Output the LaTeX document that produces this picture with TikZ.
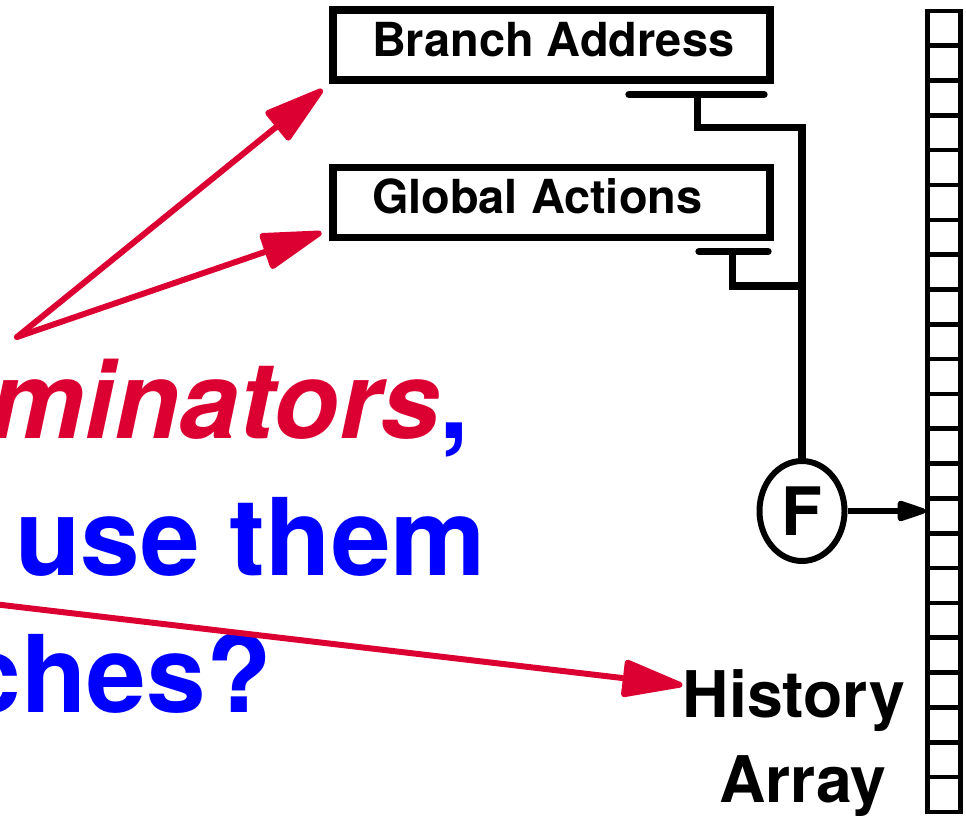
\documentclass[tikz,border=0pt]{standalone}
\usepackage{fontspec}
\setmainfont{TeX Gyre Heros}
\usetikzlibrary{arrows.meta,positioning,shapes.geometric,calc}
\definecolor{alertred}{RGB}{220,0,50}
\definecolor{textblue}{RGB}{0,0,255}
\newcommand\boxtext[1]{\makebox[7.18cm][l]{#1}}

\begin{document}
\begin{tikzpicture}[>={Triangle[round, length=0.7cm, width=0.42cm]}, every node/.style={inner sep=0pt, font=\bfseries}, box/.style={draw, line width=4pt, inner xsep=0.78cm, minimum height=1.4cm, text depth=0.24cm, font=\fontsize{26.7}{32}\selectfont\bfseries}, wire/.style={line width=4.2pt}, cell/.style={draw, line width=2.6pt, minimum width=0.66cm, minimum height=0.6966cm}, pointer/.style={color=alertred, line width=3.4pt, line cap=round, -{Triangle[round, length=1.36cm, width=0.76cm]}}, big/.style={font=\fontsize{61}{72}\selectfont\bfseries}, lbl/.style={font=\fontsize{36.6}{44}\selectfont\bfseries}]
\useasboundingbox (0,0) rectangle (19.32,16.3);
\clip (0,0) rectangle (19.32,16.3);

% question text, running off the left edge
\node[big, anchor=base east, text=alertred] (discr) at (9.4,7.54) {\textit{minators}\textcolor{textblue}{,}};
\node[big, anchor=base west, text=textblue] (usage) at (0.3,4.8) {use them};
\node[big, anchor=base east, text=textblue] (query) at (5.44,2.06) {ches?};

% tables feeding the hash
\node[box] (addr) at (11.03,15.4) {\boxtext{Branch Address}};
\node[box, below=1.6cm of addr] (glob) {\boxtext{Global Actions}};
\node[draw, ellipse, line width=3.4pt, minimum width=1.7cm, minimum height=2cm, font=\fontsize{38}{44}\selectfont\bfseries] (fn) at (16.04,6.08) {F};

% output taps
\draw[wire, line cap=round] (12.58,14.41) -- (15.28,14.41);
\draw[wire, line cap=round] (13.98,11.27) -- (15.36,11.27);
\coordinate (atap) at (13.95,14.41);
\coordinate (gtap) at (14.65,11.27);
\draw[wire] (atap) -- ++(0,-0.66) -| (fn.north);
\draw[wire] (gtap) -- ++(0,-0.69) -| (fn.north);

% history array
\foreach \i in {1,...,23}
  \node[cell] (c\i) at (18.88,{16.432-0.6966*\i}) {};
\draw[->, line width=3.4pt] (fn.east) -- (fn.east -| c14.west);

\node[lbl, anchor=base] (hist) at (15.88,1.96) {History};
\node[lbl, anchor=base] (arr) at ([xshift=0.18cm, yshift=-1.7cm]hist.base) {Array};

% pointers
\coordinate (src) at (0.34,9.56);
\coordinate (offleft) at (-2,4.44);
\draw[pointer] (src) -- ([shift={(-0.14,-0.12)}]addr.south west);
\draw[pointer] (src) -- ([shift={(-0.16,0.16)}]glob.south west);
\draw[pointer] (offleft) -- ([yshift=0.3cm]hist.west);
\end{tikzpicture}
\end{document}
